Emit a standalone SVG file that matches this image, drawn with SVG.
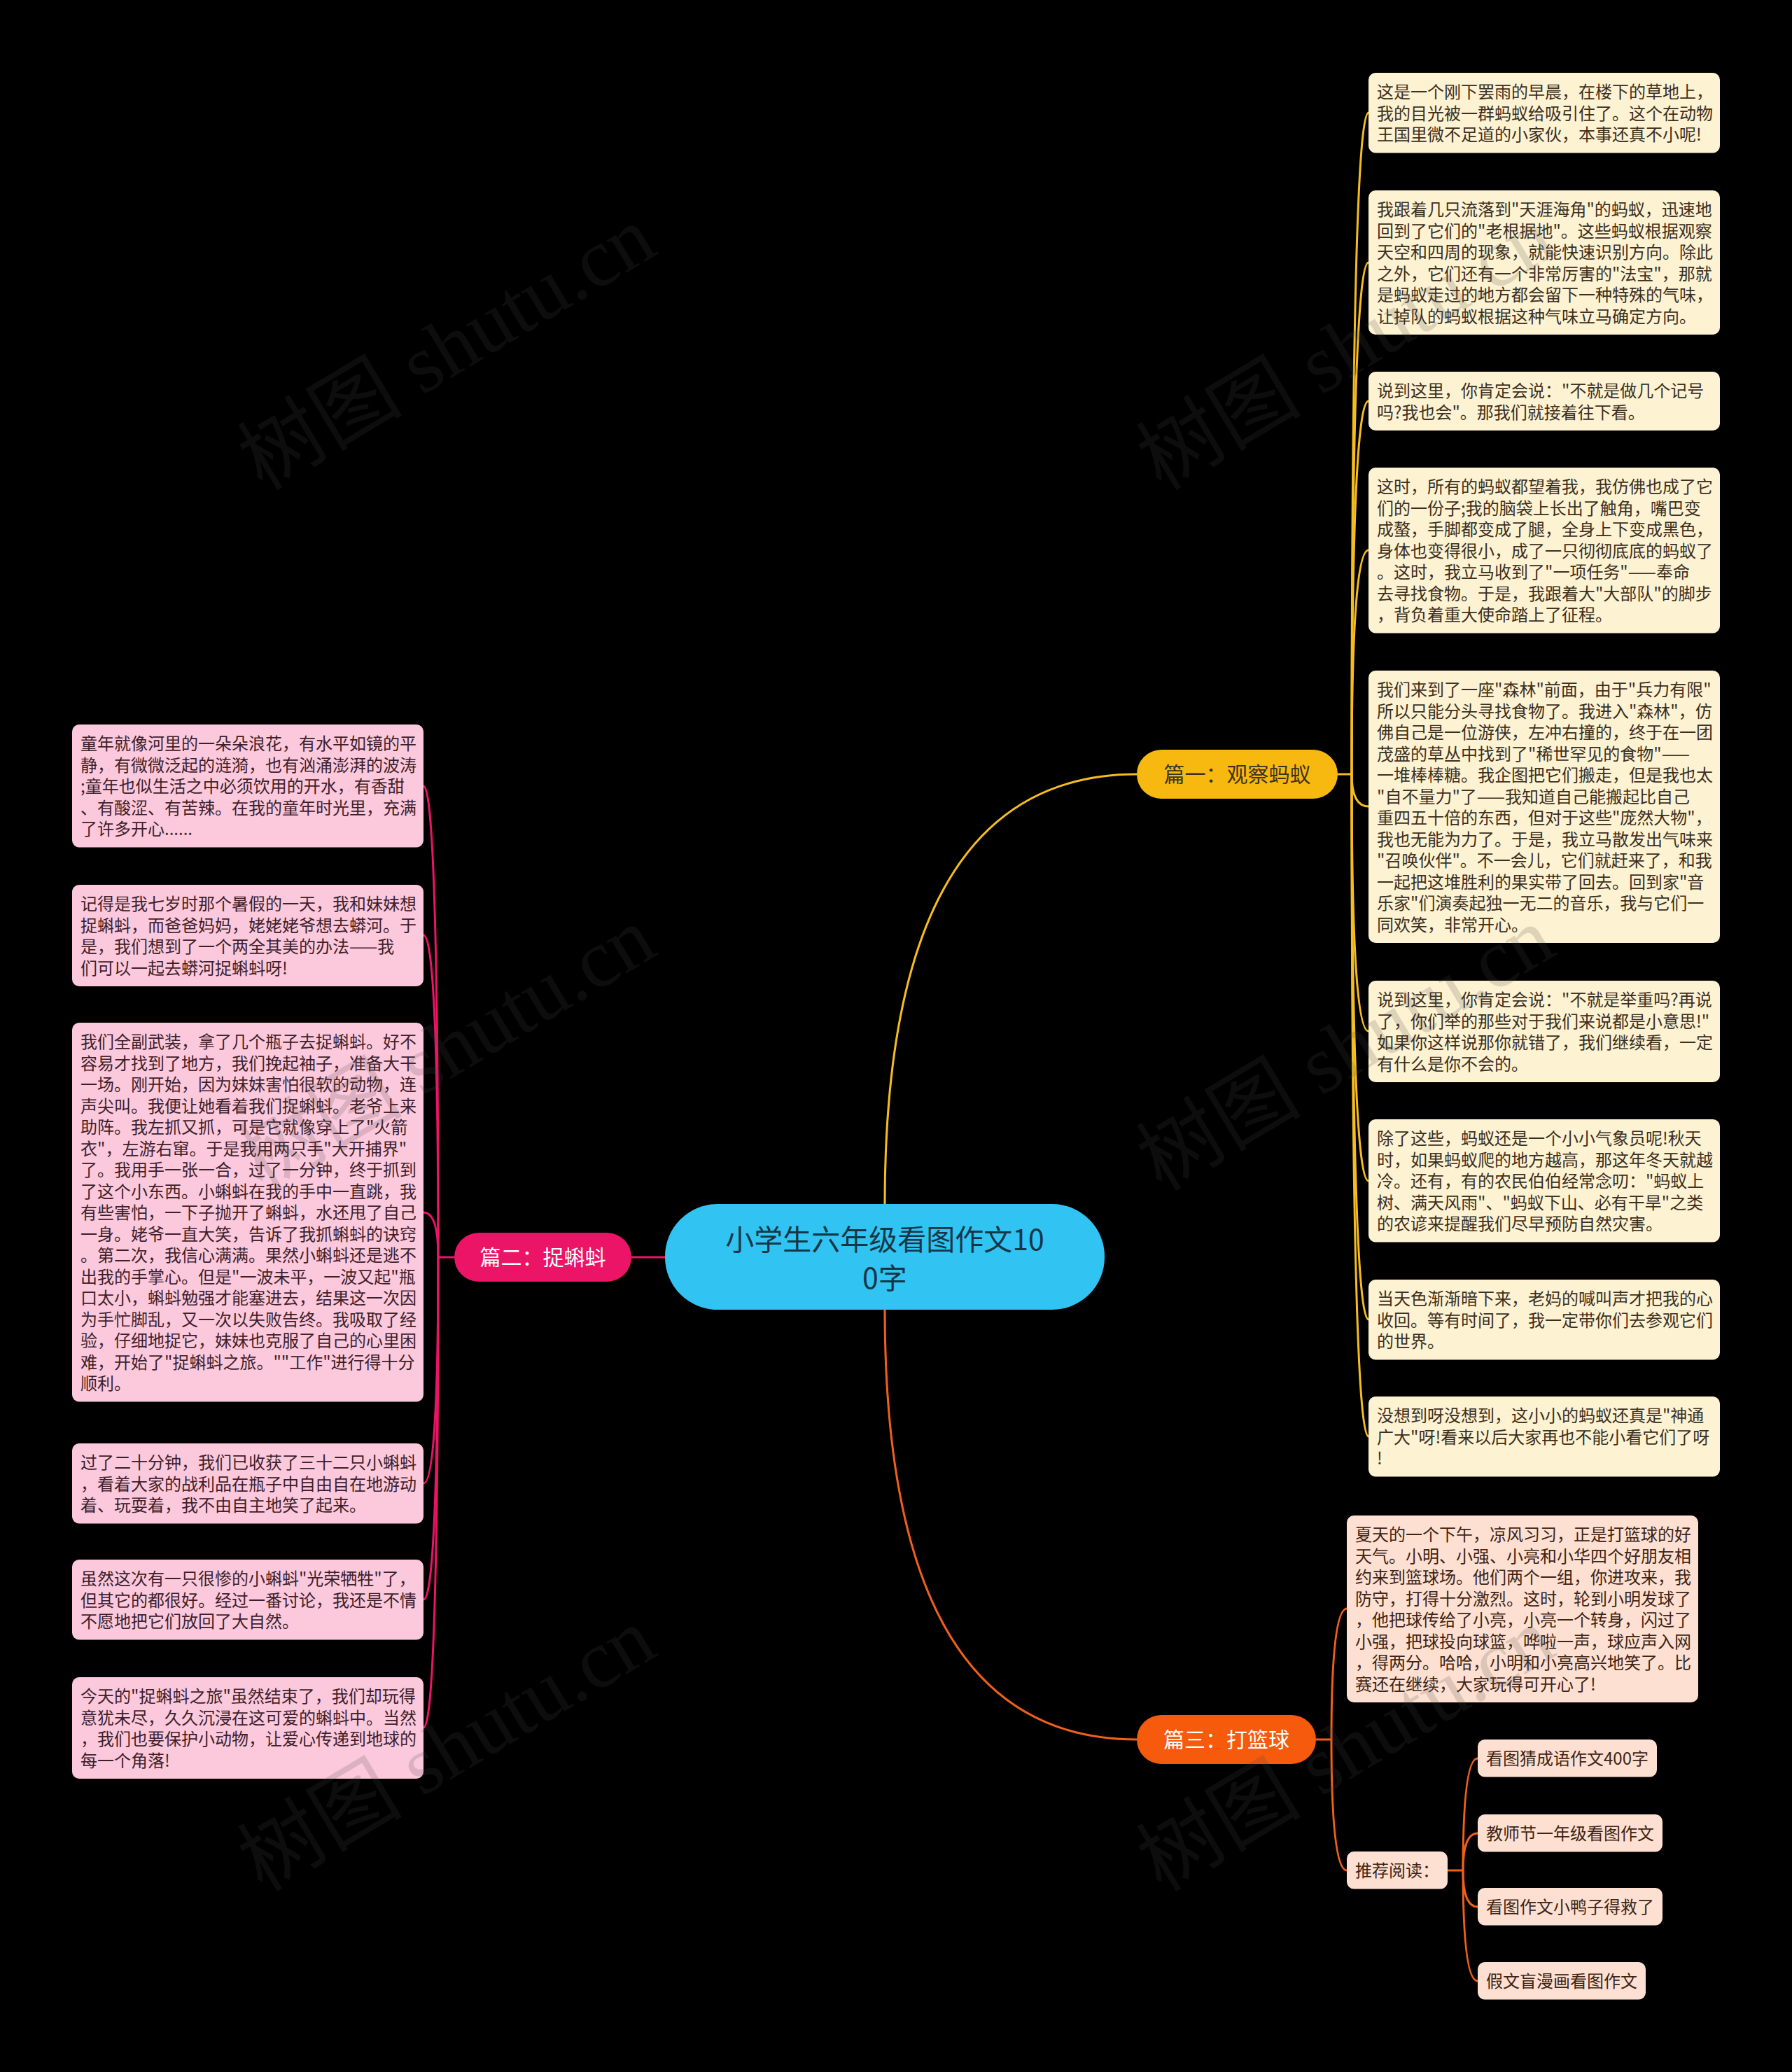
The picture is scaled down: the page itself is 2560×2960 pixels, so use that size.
<svg xmlns="http://www.w3.org/2000/svg" width="2560" height="2960" viewBox="0 0 2560 2960">
<style>
text{font-family:"Noto Sans CJK SC","Noto Sans",sans-serif;}
.t{font-size:24px;}
.yb{fill:#fdf2d2;}
.pb{fill:#fcc8dc;}
.ob{fill:#fde0d1;}
.yt{fill:#3b2f1e;}
.pt{fill:#3d1f2b;}
.ot{fill:#3d2415;}
.cy{fill:none;stroke:#f5bd1f;stroke-width:3;}
.cp{fill:none;stroke:#ec1466;stroke-width:3;}
.co{fill:none;stroke:#f0601a;stroke-width:3;}
.bt{font-size:30px;text-anchor:middle;}
.wm{font-family:"Liberation Serif","Noto Sans CJK SC",serif;font-size:118px;fill:#464646;fill-opacity:0.18;}
</style>
<rect x="0" y="0" width="2560" height="2960" fill="#000"/>
<g id="connectors">
<path class="cy" stroke-width="4" d="M1264,1720 Q1264,1106 1624,1106"/>
<path class="co" stroke-width="4" d="M1264,1871 Q1264,2485 1624,2485"/>
<path class="cp" stroke-width="5" d="M950,1796 L902,1796"/>
<path class="cy" d="M1911,1106 H1931"/>
<path class="cy" d="M1931,1106 Q1931,161 1955,161"/>
<path class="cy" d="M1931,1106 Q1931,375 1955,375"/>
<path class="cy" d="M1931,1106 Q1931,573 1955,573"/>
<path class="cy" d="M1931,1106 Q1931,786 1955,786"/>
<path class="cy" d="M1931,1106 Q1931,1152 1955,1152"/>
<path class="cy" d="M1931,1106 Q1931,1473 1955,1473"/>
<path class="cy" d="M1931,1106 Q1931,1687 1955,1687"/>
<path class="cy" d="M1931,1106 Q1931,1885 1955,1885"/>
<path class="cy" d="M1931,1106 Q1931,2052 1955,2052"/>
<path class="cp" d="M649,1796 H626"/>
<path class="cp" d="M626,1796 Q626,1123 605,1123"/>
<path class="cp" d="M626,1796 Q626,1336 605,1336"/>
<path class="cp" d="M626,1796 Q626,1732 605,1732"/>
<path class="cp" d="M626,1796 Q626,2119 605,2119"/>
<path class="cp" d="M626,1796 Q626,2285 605,2285"/>
<path class="cp" d="M626,1796 Q626,2468 605,2468"/>
<path class="co" d="M1880,2485 H1902"/>
<path class="co" d="M1902,2485 Q1902,2298 1924,2298"/>
<path class="co" d="M1902,2485 Q1902,2672 1924,2672"/>
<path class="co" d="M2068,2672 H2090"/>
<path class="co" d="M2090,2672 Q2090,2512 2111,2512"/>
<path class="co" d="M2090,2672 Q2090,2619 2111,2619"/>
<path class="co" d="M2090,2672 Q2090,2724 2111,2724"/>
<path class="co" d="M2090,2672 Q2090,2830 2111,2830"/>
</g>
<g id="root">
<rect x="950" y="1720" width="628" height="151" rx="75" fill="#31c4f3"/>
<text x="1264" y="1786" font-size="41" text-anchor="middle" fill="#163646">小学生六年级看图作文10</text>
<text x="1264" y="1841" font-size="41" text-anchor="middle" fill="#163646">0字</text>
</g>
<g id="branch1">
<rect x="1624" y="1071" width="287" height="70" rx="35" fill="#f7b90f"/>
<text class="bt" x="1767.5" y="1117" fill="#3d3222">篇一：观察蚂蚁</text>
</g>
<g id="branch2">
<rect x="649" y="1761" width="253" height="70" rx="35" fill="#ec1466"/>
<text class="bt" x="775.5" y="1807" fill="#ffffff">篇二：捉蝌蚪</text>
</g>
<g id="branch3">
<rect x="1624" y="2450" width="256" height="70" rx="35" fill="#f65a0c"/>
<text class="bt" x="1752" y="2496" fill="#ffffff">篇三：打篮球</text>
</g>
<g id="r1">
<rect class="yb" x="1955" y="104" width="502" height="114.5" rx="10"/>
<text class="t yt" x="1967" y="140"><tspan x="1967">这是一个刚下罢雨的早晨，在楼下的草地上，</tspan><tspan x="1967" dy="30.5">我的目光被一群蚂蚁给吸引住了。这个在动物</tspan><tspan x="1967" dy="30.5">王国里微不足道的小家伙，本事还真不小呢!</tspan></text>
</g>
<g id="r2">
<rect class="yb" x="1955" y="272" width="502" height="206" rx="10"/>
<text class="t yt" x="1967" y="308"><tspan x="1967">我跟着几只流落到"天涯海角"的蚂蚁，迅速地</tspan><tspan x="1967" dy="30.5">回到了它们的"老根据地"。这些蚂蚁根据观察</tspan><tspan x="1967" dy="30.5">天空和四周的现象，就能快速识别方向。除此</tspan><tspan x="1967" dy="30.5">之外，它们还有一个非常厉害的"法宝"，那就</tspan><tspan x="1967" dy="30.5">是蚂蚁走过的地方都会留下一种特殊的气味，</tspan><tspan x="1967" dy="30.5">让掉队的蚂蚁根据这种气味立马确定方向。</tspan></text>
</g>
<g id="r3">
<rect class="yb" x="1955" y="531" width="502" height="84" rx="10"/>
<text class="t yt" x="1967" y="567"><tspan x="1967">说到这里，你肯定会说："不就是做几个记号</tspan><tspan x="1967" dy="30.5">吗?我也会"。那我们就接着往下看。</tspan></text>
</g>
<g id="r4">
<rect class="yb" x="1955" y="668" width="502" height="236.5" rx="10"/>
<text class="t yt" x="1967" y="704"><tspan x="1967">这时，所有的蚂蚁都望着我，我仿佛也成了它</tspan><tspan x="1967" dy="30.5">们的一份子;我的脑袋上长出了触角，嘴巴变</tspan><tspan x="1967" dy="30.5">成螯，手脚都变成了腿，全身上下变成黑色，</tspan><tspan x="1967" dy="30.5">身体也变得很小，成了一只彻彻底底的蚂蚁了</tspan><tspan x="1967" dy="30.5">。这时，我立马收到了"一项任务"——奉命</tspan><tspan x="1967" dy="30.5">去寻找食物。于是，我跟着大"大部队"的脚步</tspan><tspan x="1967" dy="30.5">，背负着重大使命踏上了征程。</tspan></text>
</g>
<g id="r5">
<rect class="yb" x="1955" y="958" width="502" height="389" rx="10"/>
<text class="t yt" x="1967" y="994"><tspan x="1967">我们来到了一座"森林"前面，由于"兵力有限"</tspan><tspan x="1967" dy="30.5">所以只能分头寻找食物了。我进入"森林"，仿</tspan><tspan x="1967" dy="30.5">佛自己是一位游侠，左冲右撞的，终于在一团</tspan><tspan x="1967" dy="30.5">茂盛的草丛中找到了"稀世罕见的食物"——</tspan><tspan x="1967" dy="30.5">一堆棒棒糖。我企图把它们搬走，但是我也太</tspan><tspan x="1967" dy="30.5">"自不量力"了——我知道自己能搬起比自己</tspan><tspan x="1967" dy="30.5">重四五十倍的东西，但对于这些"庞然大物"，</tspan><tspan x="1967" dy="30.5">我也无能为力了。于是，我立马散发出气味来</tspan><tspan x="1967" dy="30.5">"召唤伙伴"。不一会儿，它们就赶来了，和我</tspan><tspan x="1967" dy="30.5">一起把这堆胜利的果实带了回去。回到家"音</tspan><tspan x="1967" dy="30.5">乐家"们演奏起独一无二的音乐，我与它们一</tspan><tspan x="1967" dy="30.5">同欢笑，非常开心。</tspan></text>
</g>
<g id="r6">
<rect class="yb" x="1955" y="1401" width="502" height="145" rx="10"/>
<text class="t yt" x="1967" y="1437"><tspan x="1967">说到这里，你肯定会说："不就是举重吗?再说</tspan><tspan x="1967" dy="30.5">了，你们举的那些对于我们来说都是小意思!"</tspan><tspan x="1967" dy="30.5">如果你这样说那你就错了，我们继续看，一定</tspan><tspan x="1967" dy="30.5">有什么是你不会的。</tspan></text>
</g>
<g id="r7">
<rect class="yb" x="1955" y="1599" width="502" height="175.5" rx="10"/>
<text class="t yt" x="1967" y="1635"><tspan x="1967">除了这些，蚂蚁还是一个小小气象员呢!秋天</tspan><tspan x="1967" dy="30.5">时，如果蚂蚁爬的地方越高，那这年冬天就越</tspan><tspan x="1967" dy="30.5">冷。还有，有的农民伯伯经常念叨："蚂蚁上</tspan><tspan x="1967" dy="30.5">树、满天风雨"、"蚂蚁下山、必有干旱"之类</tspan><tspan x="1967" dy="30.5">的农谚来提醒我们尽早预防自然灾害。</tspan></text>
</g>
<g id="r8">
<rect class="yb" x="1955" y="1828" width="502" height="114.5" rx="10"/>
<text class="t yt" x="1967" y="1864"><tspan x="1967">当天色渐渐暗下来，老妈的喊叫声才把我的心</tspan><tspan x="1967" dy="30.5">收回。等有时间了，我一定带你们去参观它们</tspan><tspan x="1967" dy="30.5">的世界。</tspan></text>
</g>
<g id="r9">
<rect class="yb" x="1955" y="1995" width="502" height="114.5" rx="10"/>
<text class="t yt" x="1967" y="2031"><tspan x="1967">没想到呀没想到，这小小的蚂蚁还真是"神通</tspan><tspan x="1967" dy="30.5">广大"呀!看来以后大家再也不能小看它们了呀</tspan><tspan x="1967" dy="30.5">!</tspan></text>
</g>
<g id="l1">
<rect class="pb" x="103" y="1035" width="502" height="175.5" rx="10"/>
<text class="t pt" x="115" y="1071"><tspan x="115">童年就像河里的一朵朵浪花，有水平如镜的平</tspan><tspan x="115" dy="30.5">静，有微微泛起的涟漪，也有汹涌澎湃的波涛</tspan><tspan x="115" dy="30.5">;童年也似生活之中必须饮用的开水，有香甜</tspan><tspan x="115" dy="30.5">、有酸涩、有苦辣。在我的童年时光里，充满</tspan><tspan x="115" dy="30.5">了许多开心......</tspan></text>
</g>
<g id="l2">
<rect class="pb" x="103" y="1264" width="502" height="145" rx="10"/>
<text class="t pt" x="115" y="1300"><tspan x="115">记得是我七岁时那个暑假的一天，我和妹妹想</tspan><tspan x="115" dy="30.5">捉蝌蚪，而爸爸妈妈，姥姥姥爷想去蟒河。于</tspan><tspan x="115" dy="30.5">是，我们想到了一个两全其美的办法——我</tspan><tspan x="115" dy="30.5">们可以一起去蟒河捉蝌蚪呀!</tspan></text>
</g>
<g id="l3">
<rect class="pb" x="103" y="1461" width="502" height="541.5" rx="10"/>
<text class="t pt" x="115" y="1497"><tspan x="115">我们全副武装，拿了几个瓶子去捉蝌蚪。好不</tspan><tspan x="115" dy="30.5">容易才找到了地方，我们挽起袖子，准备大干</tspan><tspan x="115" dy="30.5">一场。刚开始，因为妹妹害怕很软的动物，连</tspan><tspan x="115" dy="30.5">声尖叫。我便让她看着我们捉蝌蚪。老爷上来</tspan><tspan x="115" dy="30.5">助阵。我左抓又抓，可是它就像穿上了"火箭</tspan><tspan x="115" dy="30.5">衣"，左游右窜。于是我用两只手"大开捕界"</tspan><tspan x="115" dy="30.5">了。我用手一张一合，过了一分钟，终于抓到</tspan><tspan x="115" dy="30.5">了这个小东西。小蝌蚪在我的手中一直跳，我</tspan><tspan x="115" dy="30.5">有些害怕，一下子抛开了蝌蚪，水还甩了自己</tspan><tspan x="115" dy="30.5">一身。姥爷一直大笑，告诉了我抓蝌蚪的诀窍</tspan><tspan x="115" dy="30.5">。第二次，我信心满满。果然小蝌蚪还是逃不</tspan><tspan x="115" dy="30.5">出我的手掌心。但是"一波未平，一波又起"瓶</tspan><tspan x="115" dy="30.5">口太小，蝌蚪勉强才能塞进去，结果这一次因</tspan><tspan x="115" dy="30.5">为手忙脚乱，又一次以失败告终。我吸取了经</tspan><tspan x="115" dy="30.5">验，仔细地捉它，妹妹也克服了自己的心里困</tspan><tspan x="115" dy="30.5">难，开始了"捉蝌蚪之旅。""工作"进行得十分</tspan><tspan x="115" dy="30.5">顺利。</tspan></text>
</g>
<g id="l4">
<rect class="pb" x="103" y="2062" width="502" height="114.5" rx="10"/>
<text class="t pt" x="115" y="2098"><tspan x="115">过了二十分钟，我们已收获了三十二只小蝌蚪</tspan><tspan x="115" dy="30.5">，看着大家的战利品在瓶子中自由自在地游动</tspan><tspan x="115" dy="30.5">着、玩耍着，我不由自主地笑了起来。</tspan></text>
</g>
<g id="l5">
<rect class="pb" x="103" y="2228" width="502" height="114.5" rx="10"/>
<text class="t pt" x="115" y="2264"><tspan x="115">虽然这次有一只很惨的小蝌蚪"光荣牺牲"了，</tspan><tspan x="115" dy="30.5">但其它的都很好。经过一番讨论，我还是不情</tspan><tspan x="115" dy="30.5">不愿地把它们放回了大自然。</tspan></text>
</g>
<g id="l6">
<rect class="pb" x="103" y="2396" width="502" height="145" rx="10"/>
<text class="t pt" x="115" y="2432"><tspan x="115">今天的"捉蝌蚪之旅"虽然结束了，我们却玩得</tspan><tspan x="115" dy="30.5">意犹未尽，久久沉浸在这可爱的蝌蚪中。当然</tspan><tspan x="115" dy="30.5">，我们也要保护小动物，让爱心传递到地球的</tspan><tspan x="115" dy="30.5">每一个角落!</tspan></text>
</g>
<g id="b1">
<rect class="ob" x="1924" y="2165" width="502" height="267" rx="10"/>
<text class="t ot" x="1936" y="2201"><tspan x="1936">夏天的一个下午，凉风习习，正是打篮球的好</tspan><tspan x="1936" dy="30.5">天气。小明、小强、小亮和小华四个好朋友相</tspan><tspan x="1936" dy="30.5">约来到篮球场。他们两个一组，你进攻来，我</tspan><tspan x="1936" dy="30.5">防守，打得十分激烈。这时，轮到小明发球了</tspan><tspan x="1936" dy="30.5">，他把球传给了小亮，小亮一个转身，闪过了</tspan><tspan x="1936" dy="30.5">小强，把球投向球篮，哗啦一声，球应声入网</tspan><tspan x="1936" dy="30.5">，得两分。哈哈，小明和小亮高兴地笑了。比</tspan><tspan x="1936" dy="30.5">赛还在继续，大家玩得可开心了!</tspan></text>
</g>
<g id="b2">
<rect class="ob" x="1924" y="2645" width="144" height="53.5" rx="10"/>
<text class="t ot" x="1936" y="2681">推荐阅读：</text>
</g>
<g id="s1">
<rect class="ob" x="2111" y="2485" width="256" height="53.5" rx="10"/>
<text class="t ot" x="2123" y="2521">看图猜成语作文400字</text>
</g>
<g id="s2">
<rect class="ob" x="2111" y="2592" width="264" height="53.5" rx="10"/>
<text class="t ot" x="2123" y="2628">教师节一年级看图作文</text>
</g>
<g id="s3">
<rect class="ob" x="2111" y="2697" width="264" height="53.5" rx="10"/>
<text class="t ot" x="2123" y="2733">看图作文小鸭子得救了</text>
</g>
<g id="s4">
<rect class="ob" x="2111" y="2803" width="240" height="53.5" rx="10"/>
<text class="t ot" x="2123" y="2839">假文盲漫画看图作文</text>
</g>
<g id="watermark">
<text class="wm" transform="translate(375,702) rotate(-31)">树图 shutu.cn</text>
<text class="wm" transform="translate(375,1703) rotate(-31)">树图 shutu.cn</text>
<text class="wm" transform="translate(375,2704) rotate(-31)">树图 shutu.cn</text>
<text class="wm" transform="translate(1659,702) rotate(-31)">树图 shutu.cn</text>
<text class="wm" transform="translate(1659,1703) rotate(-31)">树图 shutu.cn</text>
<text class="wm" transform="translate(1659,2704) rotate(-31)">树图 shutu.cn</text>
</g>
</svg>
